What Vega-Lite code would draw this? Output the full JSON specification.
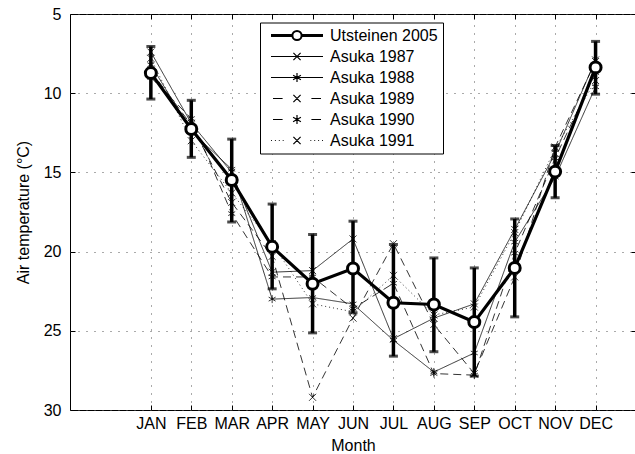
{
  "$schema": "https://vega.github.io/schema/vega-lite/v6.json",
  "width": 566,
  "height": 396,
  "padding": {"left": 15, "top": 6, "right": 0, "bottom": 0},
  "config": {
    "font": "Liberation Sans",
    "view": {"stroke": "black", "strokeWidth": 1},
    "axis": {
      "labelFont": "Liberation Sans", "labelFontSize": 16, "labelColor": "black",
      "titleFont": "Liberation Sans", "titleFontSize": 16, "titleFontWeight": "normal", "titleColor": "black",
      "domain": false, "tickColor": "black", "tickWidth": 1,
      "gridColor": "#555", "gridDash": [1, 7], "gridWidth": 1, "gridOpacity": 1
    },
    "legend": {
      "orient": "none", "legendX": 190, "legendY": 8.5, "direction": "vertical",
      "strokeColor": "black", "fillColor": "white", "padding": 5,
      "labelFont": "Liberation Sans", "labelFontSize": 16, "labelColor": "black",
      "symbolStrokeColor": "black", "symbolStrokeWidth": 1.2, "symbolSize": 144,
      "symbolOffset": 24, "labelOffset": 25, "rowPadding": 5
    }
  },
  "datasets": {
    "ut": [
      {"month": 1, "temp": 8.73, "lo": 7.05, "hi": 10.37},
      {"month": 2, "temp": 12.26, "lo": 10.45, "hi": 14.05},
      {"month": 3, "temp": 15.48, "lo": 12.9, "hi": 18.13},
      {"month": 4, "temp": 19.7, "lo": 17.0, "hi": 22.35},
      {"month": 5, "temp": 22.03, "lo": 18.92, "hi": 25.13},
      {"month": 6, "temp": 21.07, "lo": 18.08, "hi": 23.86},
      {"month": 7, "temp": 23.23, "lo": 19.55, "hi": 26.6},
      {"month": 8, "temp": 23.34, "lo": 20.4, "hi": 26.32},
      {"month": 9, "temp": 24.45, "lo": 21.03, "hi": 27.86},
      {"month": 10, "temp": 21.03, "lo": 17.94, "hi": 24.12},
      {"month": 11, "temp": 14.95, "lo": 13.3, "hi": 16.6},
      {"month": 12, "temp": 8.37, "lo": 6.73, "hi": 10.06}
    ],
    "asuka": [
      {"series": "Asuka 1987", "month": 1, "temp": 7.4},
      {"series": "Asuka 1987", "month": 2, "temp": 11.9},
      {"series": "Asuka 1987", "month": 3, "temp": 15.0},
      {"series": "Asuka 1987", "month": 4, "temp": 21.3},
      {"series": "Asuka 1987", "month": 5, "temp": 21.2},
      {"series": "Asuka 1987", "month": 6, "temp": 19.2},
      {"series": "Asuka 1987", "month": 7, "temp": 25.5},
      {"series": "Asuka 1987", "month": 8, "temp": 24.2},
      {"series": "Asuka 1987", "month": 9, "temp": 23.3},
      {"series": "Asuka 1987", "month": 10, "temp": 18.6},
      {"series": "Asuka 1987", "month": 11, "temp": 13.8},
      {"series": "Asuka 1987", "month": 12, "temp": 7.9},
      {"series": "Asuka 1988", "month": 1, "temp": 8.2},
      {"series": "Asuka 1988", "month": 2, "temp": 12.4},
      {"series": "Asuka 1988", "month": 3, "temp": 14.8},
      {"series": "Asuka 1988", "month": 4, "temp": 23.0},
      {"series": "Asuka 1988", "month": 5, "temp": 22.9},
      {"series": "Asuka 1988", "month": 6, "temp": 23.3},
      {"series": "Asuka 1988", "month": 7, "temp": 25.6},
      {"series": "Asuka 1988", "month": 8, "temp": 27.6},
      {"series": "Asuka 1988", "month": 9, "temp": 26.4},
      {"series": "Asuka 1988", "month": 10, "temp": 19.4},
      {"series": "Asuka 1988", "month": 11, "temp": 15.3},
      {"series": "Asuka 1988", "month": 12, "temp": 9.6},
      {"series": "Asuka 1989", "month": 1, "temp": 8.6},
      {"series": "Asuka 1989", "month": 2, "temp": 12.0},
      {"series": "Asuka 1989", "month": 3, "temp": 16.9},
      {"series": "Asuka 1989", "month": 4, "temp": 20.3},
      {"series": "Asuka 1989", "month": 5, "temp": 29.2},
      {"series": "Asuka 1989", "month": 6, "temp": 24.2},
      {"series": "Asuka 1989", "month": 7, "temp": 19.5},
      {"series": "Asuka 1989", "month": 8, "temp": 24.6},
      {"series": "Asuka 1989", "month": 9, "temp": 27.7},
      {"series": "Asuka 1989", "month": 10, "temp": 21.6},
      {"series": "Asuka 1989", "month": 11, "temp": 13.4},
      {"series": "Asuka 1989", "month": 12, "temp": 8.0},
      {"series": "Asuka 1990", "month": 1, "temp": 9.0},
      {"series": "Asuka 1990", "month": 2, "temp": 11.6},
      {"series": "Asuka 1990", "month": 3, "temp": 17.6},
      {"series": "Asuka 1990", "month": 4, "temp": 21.6},
      {"series": "Asuka 1990", "month": 5, "temp": 21.6},
      {"series": "Asuka 1990", "month": 6, "temp": 23.6},
      {"series": "Asuka 1990", "month": 7, "temp": 22.0},
      {"series": "Asuka 1990", "month": 8, "temp": 27.7},
      {"series": "Asuka 1990", "month": 9, "temp": 27.8},
      {"series": "Asuka 1990", "month": 10, "temp": 20.1},
      {"series": "Asuka 1990", "month": 11, "temp": 14.1},
      {"series": "Asuka 1990", "month": 12, "temp": 8.7},
      {"series": "Asuka 1991", "month": 1, "temp": 7.8},
      {"series": "Asuka 1991", "month": 2, "temp": 13.0},
      {"series": "Asuka 1991", "month": 3, "temp": 16.3},
      {"series": "Asuka 1991", "month": 4, "temp": 19.5},
      {"series": "Asuka 1991", "month": 5, "temp": 23.3},
      {"series": "Asuka 1991", "month": 6, "temp": 23.8},
      {"series": "Asuka 1991", "month": 7, "temp": 21.5},
      {"series": "Asuka 1991", "month": 8, "temp": 24.0},
      {"series": "Asuka 1991", "month": 9, "temp": 23.5},
      {"series": "Asuka 1991", "month": 10, "temp": 18.8},
      {"series": "Asuka 1991", "month": 11, "temp": 13.5},
      {"series": "Asuka 1991", "month": 12, "temp": 9.2}
    ]
  },
  "layer": [
    {
      "data": {"name": "asuka"},
      "mark": {"type": "line", "color": "black", "strokeWidth": 0.8},
      "encoding": {
        "x": {"field": "month", "type": "quantitative",
              "scale": {"domain": [-1, 13], "nice": false, "zero": false},
              "axis": {"values": [1,2,3,4,5,6,7,8,9,10,11,12], "title": "Month", "grid": true, "ticks": true, "tickSize": -5, "labelPadding": 10, "titlePadding": 6,
                       "labelExpr": "['JAN','FEB','MAR','APR','MAY','JUN','JUL','AUG','SEP','OCT','NOV','DEC'][datum.value-1]"}},
        "y": {"field": "temp", "type": "quantitative",
              "scale": {"domain": [5, 30], "reverse": true, "nice": false, "zero": false},
              "axis": {"values": [5,10,15,20,25,30], "title": "Air temperature (°C)", "grid": true, "ticks": true, "tickSize": -5, "labelPadding": 14, "titlePadding": 12}},
        "detail": {"field": "series"},
        "strokeDash": {"field": "series", "type": "nominal", "legend": null,
                       "scale": {"domain": ["Asuka 1987","Asuka 1988","Asuka 1989","Asuka 1990","Asuka 1991"],
                                 "range": [[1,0],[1,0],[8,5],[8,5],[1,3]]}}
      }
    },
    {
      "data": {"name": "asuka"},
      "transform": [{"filter": "datum.series == 'Asuka 1987' || datum.series == 'Asuka 1989' || datum.series == 'Asuka 1991'"}],
      "mark": {"type": "point", "shape": "M-1,-1L1,1M-1,1L1,-1", "size": 49, "filled": false, "color": "black", "strokeWidth": 0.8, "opacity": 1},
      "encoding": {
        "x": {"field": "month", "type": "quantitative", "axis": null},
        "y": {"field": "temp", "type": "quantitative", "axis": null}
      }
    },
    {
      "data": {"name": "asuka"},
      "transform": [{"filter": "datum.series == 'Asuka 1988' || datum.series == 'Asuka 1990'"}],
      "mark": {"type": "point", "shape": "M0,-1V1M-0.87,-0.5L0.87,0.5M-0.87,0.5L0.87,-0.5", "size": 64, "filled": false, "color": "black", "strokeWidth": 0.8, "opacity": 1},
      "encoding": {
        "x": {"field": "month", "type": "quantitative", "axis": null},
        "y": {"field": "temp", "type": "quantitative", "axis": null}
      }
    },
    {
      "data": {"name": "ut"},
      "mark": {"type": "rule", "color": "black", "strokeWidth": 3.5},
      "encoding": {
        "x": {"field": "month", "type": "quantitative", "axis": null},
        "y": {"field": "lo", "type": "quantitative", "axis": null},
        "y2": {"field": "hi"}
      }
    },
    {
      "data": {"name": "ut"},
      "mark": {"type": "tick", "orient": "horizontal", "color": "black", "size": 9, "thickness": 3},
      "encoding": {
        "x": {"field": "month", "type": "quantitative", "axis": null},
        "y": {"field": "lo", "type": "quantitative", "axis": null}
      }
    },
    {
      "data": {"name": "ut"},
      "mark": {"type": "tick", "orient": "horizontal", "color": "black", "size": 9, "thickness": 3},
      "encoding": {
        "x": {"field": "month", "type": "quantitative", "axis": null},
        "y": {"field": "hi", "type": "quantitative", "axis": null}
      }
    },
    {
      "data": {"name": "ut"},
      "mark": {"type": "line", "color": "black", "strokeWidth": 3.2},
      "encoding": {
        "x": {"field": "month", "type": "quantitative", "axis": null},
        "y": {"field": "temp", "type": "quantitative", "axis": null}
      }
    },
    {
      "data": {"name": "ut"},
      "mark": {"type": "point", "shape": "circle", "size": 120, "filled": false, "fill": "white", "fillOpacity": 1, "stroke": "black", "strokeWidth": 3, "opacity": 1},
      "encoding": {
        "x": {"field": "month", "type": "quantitative", "axis": null},
        "y": {"field": "temp", "type": "quantitative", "axis": null}
      }
    },
    {
      "data": {"name": "asuka"},
      "mark": {"type": "point", "filled": false, "color": "black", "opacity": 0},
      "encoding": {
        "x": {"field": "month", "type": "quantitative",
              "axis": {"orient": "top", "values": [1,2,3,4,5,6,7,8,9,10,11,12], "labels": false, "title": null, "grid": false, "ticks": true, "tickSize": -5}},
        "y": {"field": "temp", "type": "quantitative",
              "axis": {"orient": "right", "values": [5,10,15,20,25,30], "labels": false, "title": null, "grid": false, "ticks": true, "tickSize": -5}},
        "shape": {"field": "series", "type": "nominal", "legend": {"title": null},
                  "scale": {"domain": ["Utsteinen 2005","Asuka 1987","Asuka 1988","Asuka 1989","Asuka 1990","Asuka 1991"],
                            "range": [
                              "M-4.33,-0.15H-0.87M-4.33,0H-0.87M-4.33,0.15H-0.87M0.87,-0.15H4.33M0.87,0H4.33M0.87,0.15H4.33M0.83,0A0.83,0.83 0 1,1 -0.83,0A0.83,0.83 0 1,1 0.83,0M0.7,0A0.7,0.7 0 1,1 -0.7,0A0.7,0.7 0 1,1 0.7,0",
                              "M-4.33,0H4.33M-0.6,-0.6L0.6,0.6M-0.6,0.6L0.6,-0.6",
                              "M-4.33,0H4.33M0,-0.73V0.73M-0.65,-0.37L0.65,0.37M-0.65,0.37L0.65,-0.37",
                              "M-4,0H-2.4M2.4,0H4M-0.6,-0.6L0.6,0.6M-0.6,0.6L0.6,-0.6",
                              "M-4,0H-2.4M2.4,0H4M0,-0.73V0.73M-0.65,-0.37L0.65,0.37M-0.65,0.37L0.65,-0.37",
                              "M-4.33,0H-4.18M-3.68,0H-3.53M-3.03,0H-2.88M-2.38,0H-2.23M2.23,0H2.38M2.88,0H3.03M3.53,0H3.68M4.18,0H4.33M-0.6,-0.6L0.6,0.6M-0.6,0.6L0.6,-0.6"
                            ]}}
      }
    }
  ],
  "resolve": {"axis": {"x": "independent", "y": "independent"}}
}
